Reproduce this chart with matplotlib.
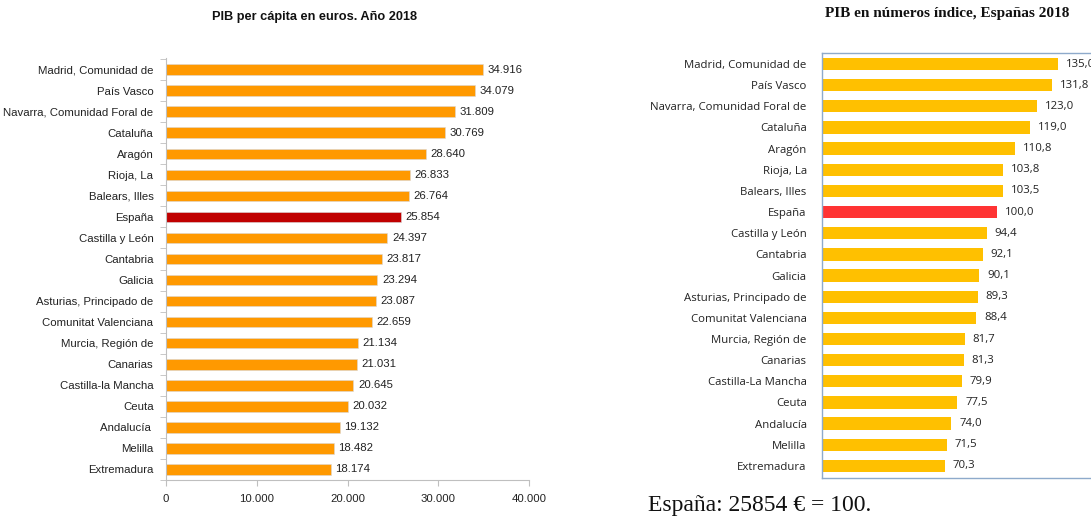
import matplotlib
matplotlib.use("Agg")
import matplotlib.pyplot as plt

W, H = 1091, 517

regions_left = ["Madrid, Comunidad de", "País Vasco", "Navarra, Comunidad Foral de", "Cataluña",
                "Aragón", "Rioja, La", "Balears, Illes", "España", "Castilla y León", "Cantabria",
                "Galicia", "Asturias, Principado de", "Comunitat Valenciana", "Murcia, Región de",
                "Canarias", "Castilla-la Mancha", "Ceuta", "Andalucía ", "Melilla", "Extremadura"]
pib_euros = [34916, 34079, 31809, 30769, 28640, 26833, 26764, 25854, 24397, 23817,
             23294, 23087, 22659, 21134, 21031, 20645, 20032, 19132, 18482, 18174]

regions_right = ["Madrid, Comunidad de", "País Vasco", "Navarra, Comunidad Foral de", "Cataluña",
                 "Aragón", "Rioja, La", "Balears, Illes", "España", "Castilla y León", "Cantabria",
                 "Galicia", "Asturias, Principado de", "Comunitat Valenciana", "Murcia, Región de",
                 "Canarias", "Castilla-La Mancha", "Ceuta", "Andalucía", "Melilla", "Extremadura"]
pib_index = [135.0, 131.8, 123.0, 119.0, 110.8, 103.8, 103.5, 100.0, 94.4, 92.1,
             90.1, 89.3, 88.4, 81.7, 81.3, 79.9, 77.5, 74.0, 71.5, 70.3]

x_ticks_left = [0, 10000, 20000, 30000, 40000]

narrow = ["Liberation Sans Narrow", "Liberation Sans", "DejaVu Sans"]
serif = ["Liberation Serif", "DejaVu Serif"]
sans2 = ["Open Sans", "DejaVu Sans"]

fig = plt.figure(figsize=(W / 100, H / 100), dpi=100)
fig.patch.set_facecolor("white")


def px_axes(left, top, right, bottom):
    return fig.add_axes([left / W, 1 - bottom / H, (right - left) / W, (bottom - top) / H])


def fmt_thousands(v):
    return f"{v:,}".replace(",", ".")


# ---------------- Left chart ----------------
axl = px_axes(166, 58, 529, 480)
ypos = list(range(len(regions_left)))
colors_l = ["#C00000" if r.strip() == "España" else "#FF9900" for r in regions_left]
axl.barh(ypos, pib_euros, height=0.5, color=colors_l, edgecolor="#d9d9d9", linewidth=0.4)
axl.set_xlim(0, 40000)
axl.set_ylim(19.5, -0.55)
axl.set_yticks(ypos)
axl.set_yticklabels(regions_left, family=narrow, fontsize=8.2, color="#222222")
axl.set_xticks(x_ticks_left)
axl.set_xticklabels([fmt_thousands(v) for v in x_ticks_left], family=narrow, fontsize=8.2, color="#222222")
axl.tick_params(axis="y", length=0, pad=9)
axl.tick_params(axis="x", length=4, color="#bfbfbf", pad=6)
axl.set_yticks([i + 0.5 for i in range(-1, len(regions_left))], minor=True)
axl.tick_params(axis="y", which="minor", length=4, color="#bfbfbf")
for s in ["top", "right"]:
    axl.spines[s].set_visible(False)
for s in ["left", "bottom"]:
    axl.spines[s].set_color("#bfbfbf")
    axl.spines[s].set_linewidth(0.8)
for y, v in zip(ypos, pib_euros):
    axl.text(v + 500, y, fmt_thousands(v), va="center", ha="left", family=narrow, fontsize=8.2, color="#222222")
fig.text(315 / W, 1 - 17 / H, "PIB per cápita en euros. Año 2018", ha="center", va="center",
         family=narrow, fontsize=9.2, fontweight="bold", color="#111111")

# ---------------- Right chart ----------------
axr = px_axes(822, 53, 822 + 160 * 1.746, 478)
colors_r = ["#FF3333" if r == "España" else "#FFC000" for r in regions_right]
axr.barh(ypos, pib_index, height=0.58, color=colors_r)
axr.set_xlim(0, 160)
axr.set_ylim(19.57, -0.52)
axr.set_yticks(ypos)
axr.set_yticklabels(regions_right, family=sans2, fontsize=8.2, color="#222222")
axr.tick_params(axis="y", length=0, pad=11)
axr.set_xticks([])
for s in ["left", "top", "bottom", "right"]:
    axr.spines[s].set_color("#8eaacb")
    axr.spines[s].set_linewidth(1.0)
for y, v in zip(ypos, pib_index):
    axr.text(v + 4.5, y, f"{v:.1f}".replace(".", ","), va="center", ha="left",
             family=sans2, fontsize=8.2, color="#222222")
fig.text(947 / W, 1 - 13 / H, "PIB en números índice, Españas 2018", ha="center", va="center",
         family=serif, fontsize=11, fontweight="bold", color="#111111")
fig.text(648 / W, 1 - 505 / H, "España: 25854 € = 100.", ha="left", va="center",
         family=serif, fontsize=17, color="#111111")

fig.savefig("out.png", dpi=100)
